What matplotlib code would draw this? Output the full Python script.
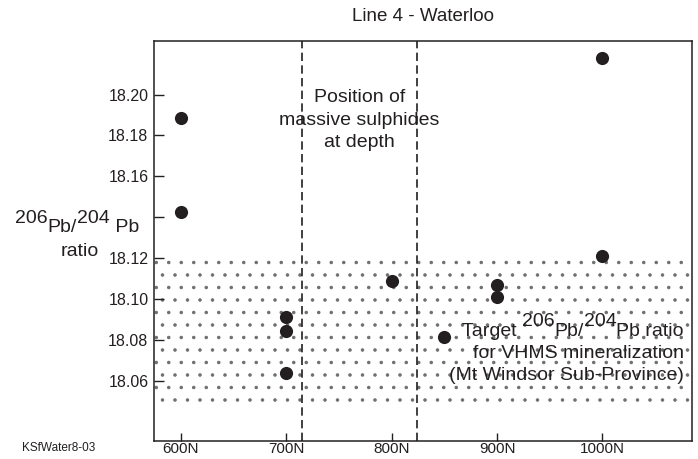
import matplotlib
matplotlib.use("Agg")
import matplotlib.pyplot as plt
from matplotlib.backend_bases import GraphicsContextBase

plt.rcParams['font.family'] = ['Liberation Sans', 'DejaVu Sans']
plt.rcParams['hatch.linewidth'] = 0.7

# looser stipple: fewer hatch rows per inch
_orig_hatch_path = GraphicsContextBase.get_hatch_path


def _hatch_path(self, density=6.0):
    return _orig_hatch_path(self, density=4.5)


GraphicsContextBase.get_hatch_path = _hatch_path

# ---- data ----
positions = [600, 600, 700, 700, 700, 800, 850, 900, 900, 1000, 1000]
ratios = [18.1886, 18.1424, 18.0913, 18.0843, 18.0639, 18.1088, 18.0814,
          18.1068, 18.1011, 18.2178, 18.1212]
x_ticks = [600, 700, 800, 900, 1000]
x_tick_labels = ['600N', '700N', '800N', '900N', '1000N']
y_ticks = [18.06, 18.08, 18.10, 18.12, 18.14, 18.16, 18.18, 18.20]
y_tick_labels = ['18.06', '18.08', '18.10', '18.12', '', '18.16', '18.18', '18.20']
sulphide_bounds = [715, 824]
target_band = [18.049, 18.119]

INK = '#231f20'
W, H = 698, 459

fig = plt.figure(figsize=(W / 100, H / 100), dpi=100)
ax = fig.add_axes([154 / W, (H - 440.7) / H, (692 - 154) / W, (440.7 - 40.7) / H])
ax.set_xlim(574.5, 1085)
ax.set_ylim(18.0306, 18.2264)

# stippled target band
ax.axhspan(target_band[0], target_band[1], facecolor='none', edgecolor='#6e6e6e',
           hatch='..', linewidth=0, zorder=0)

# dashed lines for position of massive sulphides
for xb in sulphide_bounds:
    ax.axvline(xb, color=INK, lw=1.2, linestyle=(0, (5, 2.6)), zorder=1)

ax.scatter(positions, ratios, s=90, color=INK, zorder=3, linewidths=0)

ax.set_xticks(x_ticks)
ax.set_xticklabels(x_tick_labels)
ax.set_yticks(y_ticks)
ax.set_yticklabels(y_tick_labels)
ax.tick_params(axis='x', direction='in', length=6, width=1, color=INK,
               labelsize=11, labelcolor=INK, pad=1)
ax.tick_params(axis='y', direction='in', length=7, width=1, color=INK,
               labelsize=11.5, labelcolor=INK, pad=4)
for sp in ax.spines.values():
    sp.set_color(INK)
    sp.set_linewidth(1.1)

# ---- text helpers (pixel coordinates measured from top-left) ----
fig.canvas.draw()
renderer = fig.canvas.get_renderer()


def to_px_x(xd):
    return ax.transData.transform((xd, ax.get_ylim()[0]))[0]


def rich(pieces, x, y_base, size, ha='left'):
    """pieces: list of (text, raise_px)."""
    arts = []
    widths = []
    for s, _ in pieces:
        t = fig.text(0, 0, s, fontsize=size, color=INK, va='baseline', ha='left')
        widths.append(t.get_window_extent(renderer).width)
        arts.append(t)
    total = sum(widths)
    if ha == 'right':
        x0 = x - total
    elif ha == 'center':
        x0 = x - total / 2
    else:
        x0 = x
    for t, (s, dy), w in zip(arts, pieces, widths):
        t.set_position((x0 / W, (H - y_base + dy) / H))
        x0 += w


def label(s, x, y_base, size, ha='center'):
    fig.text(x / W, (H - y_base) / H, s, fontsize=size, color=INK,
             ha=ha, va='baseline')


# title (centred over the axes)
ax_mid = (154 + 692) / 2
label('Line 4 - Waterloo', ax_mid, 21, 13.5)

# y-axis label
rich([('206', 9), ('Pb/', 0), ('204', 9), (' Pb', 0)], 77, 232, 14, ha='center')
label('ratio', 80, 256, 14)

# sulphide annotation, centred between the dashed lines
mid = to_px_x(sum(sulphide_bounds) / 2)
label('Position of', mid, 102, 14)
label('massive sulphides', mid, 125, 14)
label('at depth', mid, 147, 14)

# target annotation
right = 684
rich([('Target ', 0), ('206', 10), ('Pb/', 0), ('204', 10), ('Pb ratio', 0)],
     right, 336, 14, ha='right')
label('for VHMS mineralization', right, 358, 14, ha='right')
label('(Mt Windsor Sub-Province)', right, 380, 14, ha='right')

# figure code
label('KSfWater8-03', 22, 451, 8.5, ha='left')

fig.savefig('out.png', dpi=100)
